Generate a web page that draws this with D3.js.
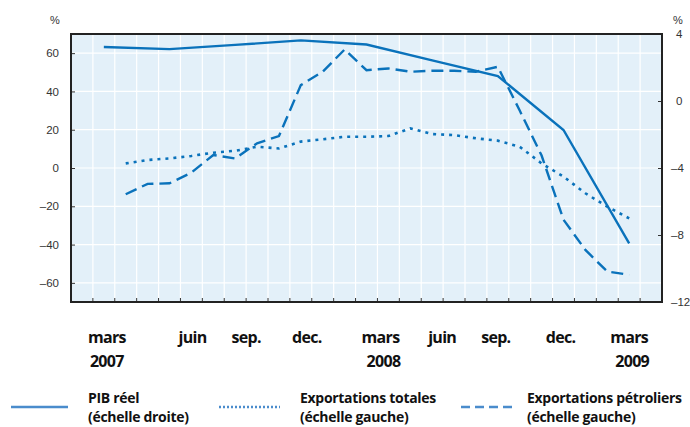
<!DOCTYPE html>
<html><head><meta charset="utf-8">
<script src="https://cdn.jsdelivr.net/npm/d3@7"></script>
<style>
body{margin:0;background:#fff;}
svg{display:block;}
</style></head>
<body><div id="chart"></div>
<script>
// ---- data ----
const months = ["2007-02","2007-03","2007-04","2007-05","2007-06","2007-07","2007-08","2007-09","2007-10","2007-11","2007-12",
  "2008-01","2008-02","2008-03","2008-04","2008-05","2008-06","2008-07","2008-08","2008-09","2008-10","2008-11","2008-12",
  "2009-01","2009-02","2009-03","2009-04"];
const pibMonths = ["2007-03","2007-06","2007-09","2007-12","2008-03","2008-06","2008-09","2008-12","2009-03"];
const pibReel = [3.22, 3.10, 3.35, 3.62, 3.37, 2.43, 1.49, -1.73, -8.5]; // right scale
const exportMonths = ["2007-04","2007-05","2007-06","2007-07","2007-08","2007-09","2007-10","2007-11","2007-12",
  "2008-01","2008-02","2008-03","2008-04","2008-05","2008-06","2008-07","2008-08","2008-09","2008-10","2008-11","2008-12",
  "2009-01","2009-02","2009-03"];
const exportTotales = [2.4, 4.2, 5.0, 6.3, 8.0, 9.0, 11.1, 10.2, 13.8, 15.0, 16.3, 16.3, 16.7, 20.7, 17.7, 17.2, 15.5, 14.3, 11.1, 2.4, -4.5, -13.2, -20.2, -26.3];
const exportPetroliers = [-13.7, -8.3, -8.0, -2.4, 6.8, 5.0, 12.9, 16.7, 43.3, 50.3, 61.9, 51.1, 52.0, 50.3, 50.8, 50.8, 50.3, 52.9, 30.0, 6.5, -27.0, -42.8, -54.1, -55.8];
const leftTicks = [-60, -40, -20, 0, 20, 40, 60];
const rightTicks = [-12, -8, -4, 0, 4];
const tickLabels = ["mars","juin","sep.","dec.","mars","juin","sep.","dec.","mars"];
const tickLabelMonths = ["2007-03","2007-06","2007-09","2007-12","2008-03","2008-06","2008-09","2008-12","2009-03"];
const tickLabelShift = [3, 23, 11, 6, 14, 10, -2, -3, 0];
const yearLabels = ["2007","2008","2009"];
const yearMonths = ["2007-03","2008-03","2009-03"];
const yearShift = [3, 17, 3];
const legendItems = [
  {line1:"PIB réel", line2:"(échelle droite)", dash:null},
  {line1:"Exportations totales", line2:"(échelle gauche)", dash:"2,2"},
  {line1:"Exportations pétroliers", line2:"(échelle gauche)", dash:"9,5"}
];

// ---- layout ----
const W = 690, H = 427;
const L = 71, R = 662, T = 34, B = 302;
const blue = "#0a72bb";
const fmt = v => (v < 0 ? "\u2013" + Math.abs(v) : String(v));

const svg = d3.select("#chart").append("svg").attr("width", W).attr("height", H);

const x = d3.scaleBand().domain(months).range([L, R]).paddingInner(0).paddingOuter(0);
const bw = x.bandwidth();
const xc = m => x(m) + bw / 2;
const yL = d3.scaleLinear().domain([-70, 70]).range([B, T]);
const yR = d3.scaleLinear().domain([-12, 4]).range([B, T]);

// background
svg.append("rect").attr("x", L).attr("y", T).attr("width", R - L).attr("height", B - T).attr("fill", "#e3f0f9");

// grid
const g = svg.append("g");
g.selectAll("line.v").data(months.slice(1)).join("line")
  .attr("x1", d => x(d)).attr("x2", d => x(d)).attr("y1", T).attr("y2", B)
  .attr("stroke", "#fff").attr("stroke-width", 1.2);
g.selectAll("line.h").data(leftTicks).join("line")
  .attr("x1", L).attr("x2", R).attr("y1", d => yL(d)).attr("y2", d => yL(d))
  .attr("stroke", "#fff").attr("stroke-width", 1.2);

// axes (inward ticks)
const axL = svg.append("g").attr("transform", `translate(${L},0)`)
  .call(d3.axisRight(yL).tickValues(leftTicks).tickSize(4).tickFormat(""));
axL.select(".domain").remove();
axL.selectAll("line").attr("stroke", "#333");
svg.selectAll("text.yl").data(leftTicks).join("text")
  .attr("x", 59).attr("y", d => yL(d)).attr("dy", "0.36em").attr("text-anchor", "end")
  .attr("font-family", "Arial, 'Liberation Sans', sans-serif").attr("font-size", 11.5).attr("fill", "#333")
  .text(fmt);

const axR = svg.append("g").attr("transform", `translate(${R},0)`)
  .call(d3.axisLeft(yR).tickValues(rightTicks.filter(v => v > -12 && v < 4)).tickSize(4).tickFormat(""));
axR.select(".domain").remove();
axR.selectAll("line").attr("stroke", "#333");
svg.selectAll("text.yr").data(rightTicks).join("text")
  .attr("x", d => d < 0 ? 671 : 676).attr("y", d => yR(d)).attr("dy", "0.36em").attr("text-anchor", "start")
  .attr("font-family", "Arial, 'Liberation Sans', sans-serif").attr("font-size", 11.5).attr("fill", "#333")
  .text(fmt);

const axB = svg.append("g").attr("transform", `translate(0,${B})`)
  .call(d3.axisTop(x).tickValues(months.slice(1)).tickSize(4).tickFormat("").offset(0));
axB.select(".domain").remove();
axB.selectAll(".tick").attr("transform", d => `translate(${x(d)},0)`);
axB.selectAll("line").attr("stroke", "#333");

// % units
svg.append("text").attr("x", 55).attr("y", 24).attr("text-anchor", "middle")
  .attr("font-family", "Arial, sans-serif").attr("font-size", 11).attr("fill", "#333").text("%");
svg.append("text").attr("x", 678).attr("y", 24).attr("text-anchor", "middle")
  .attr("font-family", "Arial, sans-serif").attr("font-size", 11).attr("fill", "#333").text("%");

// frame
svg.append("rect").attr("x", L).attr("y", T).attr("width", R - L).attr("height", B - T)
  .attr("fill", "none").attr("stroke", "#222").attr("stroke-width", 2);

// lines
const lines = svg.append("g");
const linePib = d3.line().x((d, i) => xc(pibMonths[i])).y(d => yR(d));
const lineExp = d3.line().x((d, i) => xc(exportMonths[i])).y(d => yL(d));
lines.append("path").datum(exportTotales).attr("d", lineExp).attr("fill", "none")
  .attr("stroke", blue).attr("stroke-width", 2.6).attr("stroke-dasharray", "3,5");
lines.append("path").datum(exportPetroliers).attr("d", lineExp).attr("fill", "none")
  .attr("stroke", blue).attr("stroke-width", 2.4).attr("stroke-dasharray", "12,6");
lines.append("path").datum(pibReel).attr("d", linePib).attr("fill", "none")
  .attr("stroke", blue).attr("stroke-width", 2.4);

// x labels
const labFont = "'Open Sans', Lato, sans-serif";
svg.selectAll("text.xl").data(tickLabels).join("text")
  .attr("x", (d, i) => xc(tickLabelMonths[i]) + tickLabelShift[i]).attr("y", 343)
  .attr("text-anchor", "middle").attr("font-family", labFont).attr("font-weight", 700)
  .attr("font-size", 16).attr("letter-spacing", -0.7).attr("fill", "#111").text(d => d);
svg.selectAll("text.yrl").data(yearLabels).join("text")
  .attr("x", (d, i) => xc(yearMonths[i]) + yearShift[i]).attr("y", 367)
  .attr("text-anchor", "middle").attr("font-family", labFont).attr("font-weight", 700)
  .attr("font-size", 16).attr("letter-spacing", -0.7).attr("fill", "#111").text(d => d);

// legend
const legX = [{x1: 11, x2: 68, tx: 88}, {x1: 219, x2: 280, tx: 300}, {x1: 461, x2: 512, tx: 527}];
const lg = svg.selectAll("g.leg").data(legendItems).join("g");
lg.append("line").attr("x1", (d, i) => legX[i].x1).attr("x2", (d, i) => legX[i].x2)
  .attr("y1", 407).attr("y2", 407).attr("stroke", "#4a8ccc").attr("stroke-width", 2.4)
  .attr("stroke-dasharray", d => d.dash);
lg.append("text").attr("x", (d, i) => legX[i].tx).attr("y", 403)
  .attr("font-family", labFont).attr("font-weight", 700).attr("font-size", 14).attr("letter-spacing", -0.3)
  .attr("fill", "#111").text(d => d.line1);
lg.append("text").attr("x", (d, i) => legX[i].tx).attr("y", 422)
  .attr("font-family", labFont).attr("font-weight", 700).attr("font-size", 14).attr("letter-spacing", -0.3)
  .attr("fill", "#111").text(d => d.line2);
</script></body></html>
